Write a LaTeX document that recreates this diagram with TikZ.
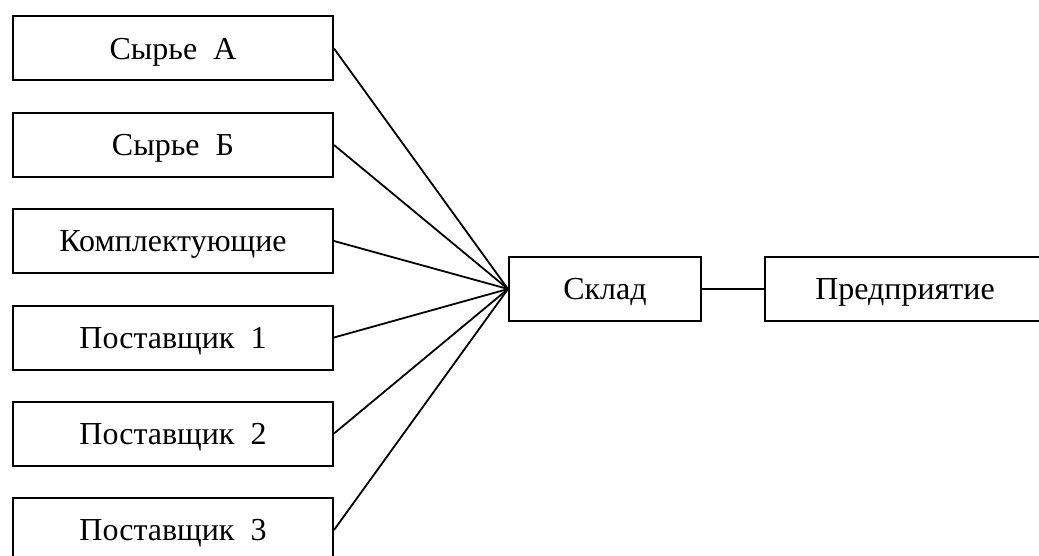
\documentclass[tikz,border=0pt]{standalone}
\usepackage{fontspec}
\setmainfont{Liberation Serif}
\newfontfamily\rufont{Liberation Serif}
\tikzset{
  srcbox/.style={draw,line width=1pt,minimum width=160pt,minimum height=32pt,inner sep=0pt,text height=10.6pt,text depth=0pt,font=\rufont\fontsize{16pt}{19pt}\selectfont},
  link/.style={line width=0.9pt}
}
\begin{document}
\begin{tikzpicture}[x=0.5pt,y=-0.5pt]
                \clip (0,0) rectangle (1039,556);
                \node[srcbox] (rawA) at (173,48.5) {Сырье\ \ А};
                \node[srcbox] (rawB) at (173,145) {Сырье\ \ Б};
                \node[srcbox] (parts) at (173,241) {Комплектующие};
                \node[srcbox] (sup1) at (173,337.5) {Поставщик\ \ 1};
                \node[srcbox] (sup2) at (173,433.5) {Поставщик\ \ 2};
                \node[srcbox] (sup3) at (173,530) {Поставщик\ \ 3};
                \node[srcbox,minimum width=96pt] (store) at (605,289) {Склад};
                \node[srcbox,minimum width=140pt] (firm) at (905,289) {Предприятие};
                \draw[link] (rawA.east)--(store.west);
                \draw[link] (rawB.east)--(store.west);
                \draw[link] (parts.east)--(store.west);
                \draw[link] (sup1.east)--(store.west);
                \draw[link] (sup2.east)--(store.west);
                \draw[link] (sup3.east)--(store.west);
                \draw[link] (store.east)--(firm.west);
            \end{tikzpicture}
\end{document}
